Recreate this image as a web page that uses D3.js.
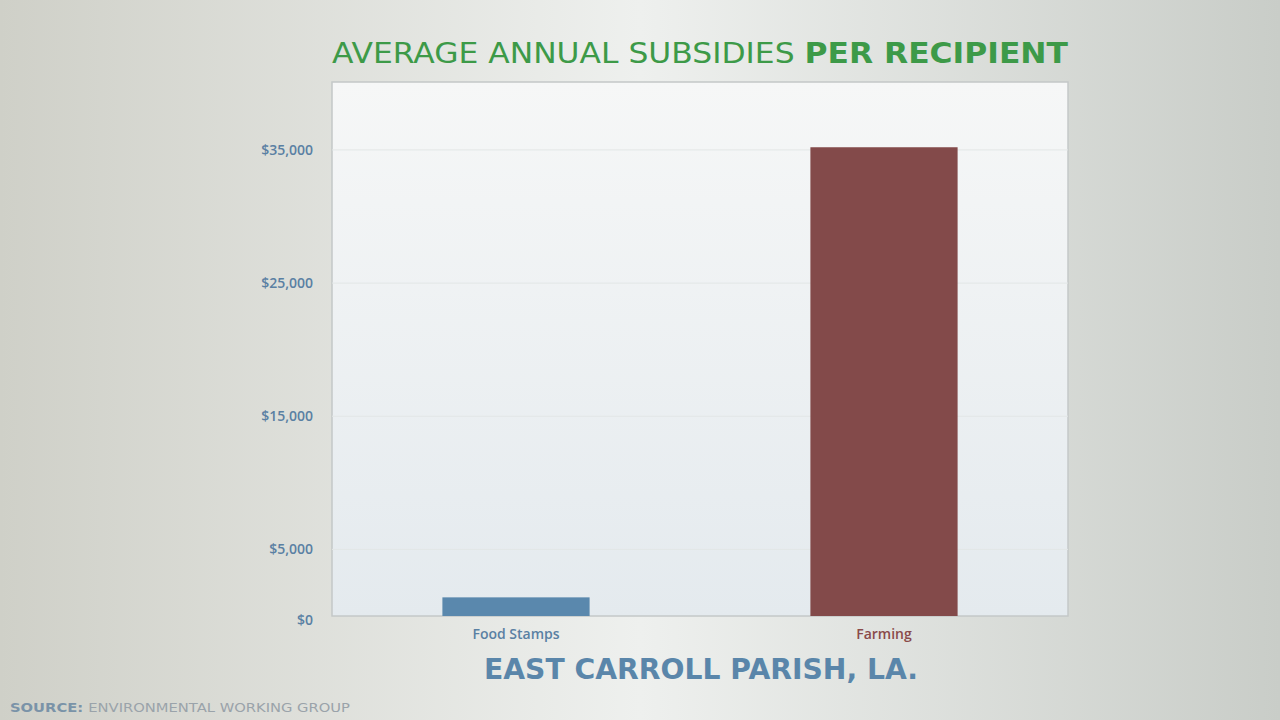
<!DOCTYPE html><html><head><meta charset="utf-8">
<script src="https://cdn.jsdelivr.net/npm/d3@7/dist/d3.min.js"></script>
<style>body{margin:0;}svg{display:block;font-family:"Open Sans",sans-serif;}</style></head><body>
<svg id="c" width="1280" height="720"></svg>
<script>
const categories = ["Food Stamps", "Farming"];
const values = [1400, 35200];
const barColors = ["#5a88ad", "#834a4a"];
const labelColors = ["#5a80a3", "#8a4a4a"];
const tickValues = [0, 5000, 15000, 25000, 35000];

const svg = d3.select("#c");
const defs = svg.append("defs");
const bg = defs.append("linearGradient").attr("id","bg").attr("x1",0).attr("x2",1).attr("y1",0).attr("y2",0);
bg.append("stop").attr("offset","0").attr("stop-color","#cfd0c8");
bg.append("stop").attr("offset","0.5").attr("stop-color","#eef0ee");
bg.append("stop").attr("offset","1").attr("stop-color","#c9cdc8");
svg.append("rect").attr("width",1280).attr("height",720).attr("fill","url(#bg)");
const pg = defs.append("linearGradient").attr("id","pg").attr("x1",0).attr("x2",0).attr("y1",0).attr("y2",1);
pg.append("stop").attr("offset","0").attr("stop-color","#f6f7f7");
pg.append("stop").attr("offset","1").attr("stop-color","#e4eaee");

const L=332,R=1068,T=82,B=616;
const y = d3.scaleLinear().domain([0,40100]).range([B,T]);
const x = d3.scaleBand().domain(categories).range([L,R]).paddingInner(0.6).paddingOuter(0.3);

svg.append("rect").attr("x",L).attr("y",T).attr("width",R-L).attr("height",B-T)
  .attr("fill","url(#pg)").attr("stroke","#c4c8c8").attr("stroke-width",1.5);
svg.selectAll(".grid").data(tickValues.slice(1)).join("line")
  .attr("x1",L).attr("x2",R).attr("y1",d=>y(d)).attr("y2",d=>y(d))
  .attr("stroke","#e2e6e6").attr("stroke-width",1);

const ax = svg.append("g").attr("transform",`translate(${L-16},0)`)
  .call(d3.axisLeft(y).tickValues(tickValues).tickSize(0).tickFormat(d=>"$"+d3.format(",")(d)));
ax.select(".domain").remove();
ax.selectAll("text").attr("fill","#5a80a3").attr("font-size",14).attr("font-weight",600)
  .attr("font-family","Open Sans").attr("dy", d=> d===0 ? "0.6em" : "0.32em");

svg.selectAll(".bar").data(values).join("rect")
  .attr("x",(d,i)=>x(categories[i])).attr("width",x.bandwidth())
  .attr("y",d=>y(d)).attr("height",d=>B-y(d)).attr("fill",(d,i)=>barColors[i]);

svg.selectAll(".cat").data(categories).join("text")
  .attr("x",d=>x(d)+x.bandwidth()/2).attr("y",639).attr("text-anchor","middle")
  .attr("font-size",14).attr("font-weight",600).attr("fill",(d,i)=>labelColors[i]).text(d=>d);

const t = svg.append("text").attr("x",332).attr("y",63)
  .attr("font-size",28).attr("fill","#3d9a48").attr("font-family","DejaVu Sans")
  .attr("textLength",736).attr("lengthAdjust","spacingAndGlyphs");
t.append("tspan").text("AVERAGE ANNUAL SUBSIDIES ");
t.append("tspan").attr("font-weight",700).text("PER RECIPIENT");

svg.append("text").attr("x",484).attr("y",679)
  .attr("font-size",28).attr("font-weight",700).attr("fill","#5a86aa").attr("font-family","DejaVu Sans")
  .attr("textLength",434).attr("lengthAdjust","spacingAndGlyphs").text("EAST CARROLL PARISH, LA.");

const s = svg.append("text").attr("x",10).attr("y",712).attr("font-size",12).attr("font-family","DejaVu Sans")
  .attr("textLength",340).attr("lengthAdjust","spacingAndGlyphs");
s.append("tspan").attr("font-weight",700).attr("fill","#7a93a8").text("SOURCE: ");
s.append("tspan").attr("fill","#9aa3aa").text("ENVIRONMENTAL WORKING GROUP");
</script></body></html>
